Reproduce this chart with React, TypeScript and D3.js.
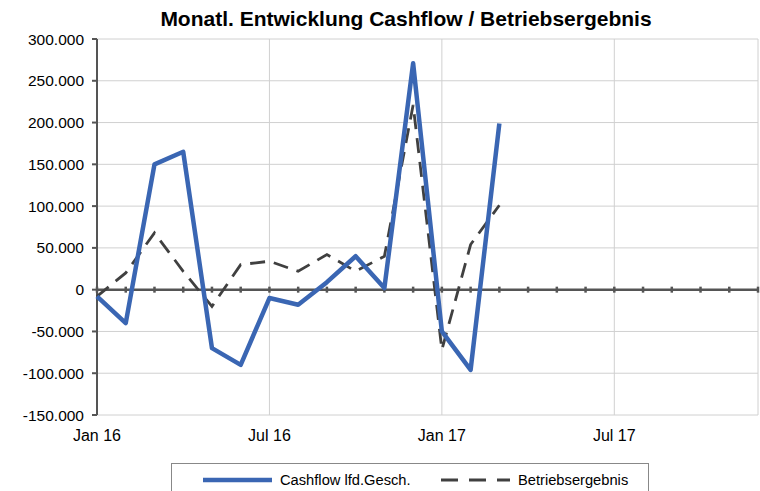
import React from 'react';
import * as d3 from 'd3';

const months = [
  'Jan 16', 'Feb 16', 'Mär 16', 'Apr 16', 'Mai 16', 'Jun 16',
  'Jul 16', 'Aug 16', 'Sep 16', 'Okt 16', 'Nov 16', 'Dez 16',
  'Jan 17', 'Feb 17', 'Mär 17', 'Apr 17', 'Mai 17', 'Jun 17',
  'Jul 17', 'Aug 17', 'Sep 17', 'Okt 17', 'Nov 17', 'Dez 17',
];
const labelledMonths = ['Jan 16', 'Jul 16', 'Jan 17', 'Jul 17'];

const cashflow = [
  -8000, -40000, 150000, 165000, -70000, -90000, -10000, -18000,
  9000, 40000, 2000, 271000, -50000, -96000, 199000,
];
const betriebsergebnis = [
  -8000, 20000, 68000, 22000, -20000, 30000, 34000, 22000,
  42000, 22000, 40000, 221000, -72000, 54000, 101000,
];
const yTicks = [-150000, -100000, -50000, 0, 50000, 100000, 150000, 200000, 250000, 300000];

const W = 760;
const H = 491;
const margin = { top: 39, right: 1, bottom: 76, left: 97 };
const font = 'Liberation Sans, Arial, sans-serif';

const fmt = (v: number) =>
  v === 0 ? '0' : (v < 0 ? '-' : '') + d3.format(',')(Math.abs(v)).replace(/,/g, '.');

export default function App() {
  const x = d3.scaleLinear().domain([0, months.length - 1]).range([margin.left, W - margin.right - 1]);
  const y = d3.scaleLinear().domain([-150000, 300000]).range([H - margin.bottom, margin.top]);

  const line = d3.line<number>().x((_, i) => x(i)).y(d => y(d));
  const y0 = y(0);

  return (
    <svg width={W} height={H} style={{ position: 'absolute', left: 0, top: 0, background: '#fff' }} fontFamily={font}>
      <text x={W / 2 + 26} y={26} textAnchor="middle" fontSize={21} fontWeight="bold" fill="#000">
        Monatl. Entwicklung Cashflow / Betriebsergebnis
      </text>

      {/* horizontal grid */}
      {yTicks.map(t => (
        <line key={'h' + t} x1={x(0)} x2={x(months.length - 1)} y1={y(t)} y2={y(t)} stroke="#d0d0d0" strokeWidth={1} />
      ))}
      {/* vertical grid */}
      {labelledMonths.map(m => {
        const i = months.indexOf(m);
        return <line key={'v' + m} x1={x(i)} x2={x(i)} y1={y(300000)} y2={y(-150000)} stroke="#d0d0d0" strokeWidth={1} />;
      })}
      <line x1={x(months.length - 1)} x2={x(months.length - 1)} y1={y(300000)} y2={y(-150000)} stroke="#d0d0d0" strokeWidth={1} />

      {/* y axis */}
      <line x1={x(0)} x2={x(0)} y1={y(300000)} y2={y(-150000)} stroke="#555" strokeWidth={2} />
      {yTicks.map(t => (
        <g key={'yt' + t}>
          <line x1={x(0) - 5} x2={x(0)} y1={y(t)} y2={y(t)} stroke="#555" strokeWidth={2} />
          <text x={x(0) - 13} y={y(t) + 5.5} textAnchor="end" fontSize={15.5} fill="#000">{fmt(t)}</text>
        </g>
      ))}

      {/* zero axis with monthly ticks */}
      <line x1={x(0)} x2={x(months.length - 1)} y1={y0} y2={y0} stroke="#555" strokeWidth={2.5} />
      {months.map((m, i) => (
        <line key={'xt' + m} x1={x(i)} x2={x(i)} y1={y0 - 3} y2={y0 + 3} stroke="#555" strokeWidth={2.5} />
      ))}
      {labelledMonths.map(m => (
        <text key={'xl' + m} x={x(months.indexOf(m))} y={441} textAnchor="middle" fontSize={16} fill="#000">{m}</text>
      ))}

      {/* series */}
      <path d={line(betriebsergebnis) ?? ''} fill="none" stroke="#404040" strokeWidth={2.8} strokeDasharray="15,9" />
      <path d={line(cashflow) ?? ''} fill="none" stroke="#3a66b3" strokeWidth={4.5} strokeLinejoin="round" />

      {/* legend */}
      <rect x={171.5} y={463.5} width={477} height={40} fill="#fff" stroke="#888" strokeWidth={1} />
      <line x1={203} x2={272} y1={480} y2={480} stroke="#3a66b3" strokeWidth={4.5} />
      <text x={280} y={485} fontSize={14.7} fill="#000">Cashflow lfd.Gesch.</text>
      <line x1={441} x2={510} y1={480} y2={480} stroke="#404040" strokeWidth={2.8} strokeDasharray="17,11" />
      <text x={518} y={485} fontSize={14.7} fill="#000">Betriebsergebnis</text>
    </svg>
  );
}
